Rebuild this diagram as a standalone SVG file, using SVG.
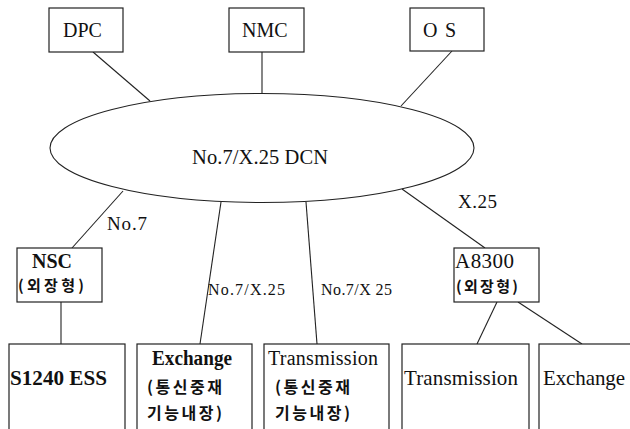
<svg xmlns="http://www.w3.org/2000/svg" width="630" height="429" viewBox="0 0 630 429">
<style>
.box{fill:#fff;stroke:#222;stroke-width:1.2}
.ln{stroke:#222;stroke-width:1.1;fill:none}
.t{font-family:"Liberation Serif","Times New Roman",serif;fill:#111}
.k{font-family:"Noto Sans CJK KR","Noto Sans",sans-serif;fill:#111;font-size:16px;font-weight:bold}
.ks{font-size:15px}
</style>
<rect width="630" height="429" fill="#fff"/>
<g id="connectors">
<line class="ln" x1="93" y1="52" x2="150" y2="101"/>
<line class="ln" x1="262" y1="52" x2="262" y2="93"/>
<line class="ln" x1="452" y1="51" x2="401" y2="106"/>
<line class="ln" x1="123" y1="191" x2="72" y2="248"/>
<line class="ln" x1="221" y1="202" x2="200" y2="344"/>
<line class="ln" x1="306" y1="202" x2="317" y2="344"/>
<line class="ln" x1="402" y1="189" x2="485" y2="248"/>
<line class="ln" x1="61" y1="302" x2="61" y2="344"/>
<line class="ln" x1="497" y1="302" x2="477" y2="344"/>
<line class="ln" x1="518" y1="302" x2="582" y2="344"/>
<text class="t" x="107" y="230" font-size="19" textLength="40" lengthAdjust="spacing">No.7</text>
<text class="t" x="458" y="208" font-size="19" textLength="39" lengthAdjust="spacing">X.25</text>
<text class="t" x="208" y="295" font-size="16" textLength="77" lengthAdjust="spacing">No.7/X.25</text>
<text class="t" x="321" y="295" font-size="16" textLength="71" lengthAdjust="spacing">No.7/X 25</text>
</g>
<g id="dpc">
<rect class="box" x="49" y="8" width="74" height="44"/>
<text class="t" x="63" y="37" font-size="20">DPC</text>
</g>
<g id="nmc">
<rect class="box" x="229" y="8" width="75" height="44"/>
<text class="t" x="242" y="37" font-size="20">NMC</text>
</g>
<g id="os">
<rect class="box" x="410" y="8" width="74" height="43"/>
<text class="t" x="423" y="37" font-size="20" textLength="33" lengthAdjust="spacing">O S</text>
</g>
<g id="dcn">
<ellipse class="ln" cx="262" cy="148" rx="212" ry="54.5"/>
<text class="t" x="192" y="164" font-size="20.5" textLength="136" lengthAdjust="spacing">No.7/X.25 DCN</text>
</g>
<g id="nsc">
<rect class="box" x="17" y="248" width="85" height="54"/>
<text class="t" x="32" y="268" font-size="20" font-weight="bold" textLength="40" lengthAdjust="spacingAndGlyphs">NSC</text>
<text class="k ks" x="18" y="291" textLength="66" lengthAdjust="spacing">(외장형)</text>
</g>
<g id="a8300">
<rect class="box" x="454" y="248" width="85" height="54"/>
<text class="t" x="455" y="268" font-size="21" textLength="59" lengthAdjust="spacing">A8300</text>
<text class="k ks" x="456" y="292" textLength="62" lengthAdjust="spacing">(외장형)</text>
</g>
<g id="s1240">
<rect class="box" x="9" y="344" width="116" height="100"/>
<text class="t" x="10" y="385" font-size="21" font-weight="bold" textLength="97" lengthAdjust="spacingAndGlyphs">S1240 ESS</text>
</g>
<g id="exchange1">
<rect class="box" x="137" y="344" width="115" height="100"/>
<text class="t" x="152" y="365" font-size="20" font-weight="bold" textLength="80" lengthAdjust="spacingAndGlyphs">Exchange</text>
<text class="k" x="147" y="393" textLength="75" lengthAdjust="spacing">(통신중재</text>
<text class="k" x="147" y="419" textLength="75" lengthAdjust="spacing">기능내장)</text>
</g>
<g id="transmission1">
<rect class="box" x="264" y="344" width="125" height="100"/>
<text class="t" x="268" y="365" font-size="20" textLength="110" lengthAdjust="spacing">Transmission</text>
<text class="k" x="275" y="393" textLength="75" lengthAdjust="spacing">(통신중재</text>
<text class="k" x="275" y="419" textLength="75" lengthAdjust="spacing">기능내장)</text>
</g>
<g id="transmission2">
<rect class="box" x="402" y="344" width="127" height="100"/>
<text class="t" x="404" y="385" font-size="21" textLength="114" lengthAdjust="spacing">Transmission</text>
</g>
<g id="exchange2">
<rect class="box" x="539" y="344" width="100" height="100"/>
<text class="t" x="543" y="385" font-size="21" textLength="82" lengthAdjust="spacing">Exchange</text>
</g>
</svg>
